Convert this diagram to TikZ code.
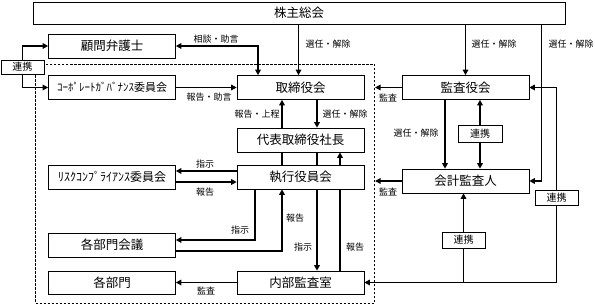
\documentclass[tikz,border=0pt]{standalone}
\usepackage{fontspec}
\setmainfont{Noto Sans CJK JP}
\usetikzlibrary{arrows.meta}
\tikzset{
  box/.style={draw, line width=0.6pt, fill=white, inner sep=0pt, minimum width=127pt, minimum height=24pt, font=\fontsize{12.5}{13}\selectfont},
  rbox/.style={draw, line width=0.6pt, fill=white, inner sep=0pt, minimum width=43pt, minimum height=15pt, font=\fontsize{10}{11}\selectfont},
  lbl/.style={inner sep=0pt, font=\fontsize{9}{10}\selectfont},
  conn/.style={line width=1.4pt},
  arr/.style={conn, -{Triangle[length=5.5pt,width=5.5pt]}},
  darr/.style={conn, {Triangle[length=5.5pt,width=5.5pt]}-{Triangle[length=5.5pt,width=5.5pt]}},
  frm/.style={draw, line width=1pt, dash pattern=on 2.5pt off 1.5pt, inner sep=0pt, minimum width=339pt, minimum height=239pt, anchor=north west}
}
\begin{document}
\begin{tikzpicture}[x=1pt,y=-1pt]
\useasboundingbox (0,0) rectangle (595,304);
\node[frm] (frame) at (35,64) {};
% boxes
\node[box, minimum width=532pt, minimum height=22pt] (kabu) at (299,13) {株主総会};
\node[box] (komon) at (112,46) {顧問弁護士};
\node[rbox, minimum height=14pt] (renkei1) at (22.5,67) {連携};
\node[box, font=\fontsize{11}{12}\selectfont] (cg) at (112,87.5) {ｺｰﾎﾟﾚｰﾄｶﾞﾊﾞﾅﾝｽ委員会};
\node[box] (tori) at (300.5,87.5) {取締役会};
\node[box] (kansa) at (465.5,87.5) {監査役会};
\node[box] (daihyo) at (300.5,140) {代表取締役社長};
\node[box, font=\fontsize{12}{13}\selectfont] (risk) at (112,177) {ﾘｽｸｺﾝﾌﾟﾗｲｱﾝｽ委員会};
\node[box] (shikko) at (300.5,177) {執行役員会};
\node[box] (kaikei) at (465.5,181) {会計監査人};
\node[rbox, minimum width=44pt, minimum height=17pt] (renkei2) at (480,133.5) {連携};
\node[rbox] (renkei3) at (556.5,197.5) {連携};
\node[rbox, minimum height=16pt] (renkei4) at (463.5,240) {連携};
\node[box] (kaigi) at (112,245) {各部門会議};
\node[box, minimum height=23pt] (bumon) at (112,282.5) {各部門};
\node[box, minimum height=23pt] (naibu) at (300.5,282.5) {内部監査室};
% helper coordinates
\coordinate (t1) at ([xshift=-2pt]tori.north);
\coordinate (t2) at ([xshift=-42.5pt]tori.north);
\coordinate (k3) at ([xshift=12pt]kaikei.east);
\coordinate (s1) at ([xshift=-20.5pt]kansa.south);
\coordinate (d1) at ([xshift=16.5pt]tori.south);
\coordinate (d2) at ([xshift=-18.5pt]daihyo.north);
\coordinate (e1) at ([xshift=-18.5pt]shikko.north);
\coordinate (e2) at ([xshift=16.5pt]daihyo.south);
\coordinate (e3) at ([xshift=39.5pt]shikko.north);
\coordinate (f1) at ([xshift=-45.5pt]shikko.south);
\coordinate (f2) at ([xshift=-18.5pt]shikko.south);
\coordinate (f3) at ([xshift=16.5pt]shikko.south);
\coordinate (f4) at ([xshift=39.5pt]naibu.north);
\coordinate (g1) at ([yshift=5pt]kaigi.east);
\coordinate (g2) at ([yshift=-6pt]kaigi.east);
\coordinate (h1) at ([yshift=6pt]shikko.west);
\coordinate (h2) at ([yshift=-5pt]risk.east);
% connectors
\draw[darr] (komon.east) -| (t2);
\draw[arr] (kabu.south -| t1) -- (t1);
\draw[arr] (kabu.south -| kansa.north) -- (kansa.north);
\draw[arr] (kabu.south -| k3) |- (kaikei.east);
\draw[arr] (renkei3.north) |- (kansa.east);
\draw[arr] (renkei3.south) |- (naibu.east);
\draw[arr] (renkei4.north) -- (renkei4.north |- kaikei.south);
\draw[conn] (renkei4.south) -- (renkei4.south |- naibu.east);
\draw[arr] (s1) -- (s1 |- kaikei.north);
\draw[arr] (renkei2.north) -- (renkei2.north |- kansa.south);
\draw[arr] (renkei2.south) -- (renkei2.south |- kaikei.north);
\draw[arr] (kansa.west) -- (kansa.west -| frame.east);
\draw[arr] (kaikei.west) -- (kaikei.west -| frame.east);
\draw[arr] (renkei1.north) |- (komon.west);
\draw[arr] (renkei1.south) |- (cg.west);
\draw[arr] (cg.east) -- (tori.west);
\draw[arr] (d1) -- (d1 |- daihyo.north);
\draw[arr] (d2) -- (d2 |- tori.south);
\draw[conn] (e1) -- (e1 |- daihyo.south);
\draw[conn] (e2) -- (e2 |- shikko.north);
\draw[arr] (e3) -- (e3 |- daihyo.south);
\draw[arr] (f1) |- (g1);
\draw[arr] (g2) -| (f2);
\draw[arr] (f3) -- (f3 |- naibu.north);
\draw[conn] (f4) -- (f4 |- shikko.south);
\draw[arr] (h1) -- (h1 -| risk.east);
\draw[arr] (h2) -- (h2 -| shikko.west);
\draw[arr] (naibu.west) -- (bumon.east);
% labels
\node[lbl] (l1) at (216,39) {相談・助言};
\node[lbl] (l2) at (209,97) {報告・助言};
\node[lbl] (l3) at (328,44) {選任・解除};
\node[lbl] (l4) at (494,44) {選任・解除};
\node[lbl] (l5) at (571,44) {選任・解除};
\node[lbl] (l6) at (388,97.5) {監査};
\node[lbl] (l7) at (388,192) {監査};
\node[lbl] (l8) at (257,114) {報告・上程};
\node[lbl] (l9) at (345,114) {選任・解除};
\node[lbl] (l10) at (416,133) {選任・解除};
\node[lbl] (l11) at (205,164) {指示};
\node[lbl] (l12) at (205,192) {報告};
\node[lbl] (l13) at (240,230) {指示};
\node[lbl] (l14) at (295,218) {報告};
\node[lbl] (l15) at (303,247) {指示};
\node[lbl] (l16) at (355,247) {報告};
\node[lbl] (l17) at (206,291) {監査};
\end{tikzpicture}
\end{document}
